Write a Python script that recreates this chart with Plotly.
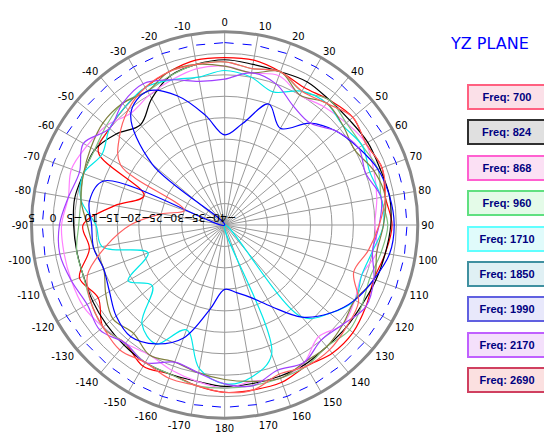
import plotly.graph_objects as go

# angles every 10 deg, clockwise from top (0..350)
angles = list(range(0, 360, 10))

freq_700 = [-1, -1, -2, -3, -2, -1, -2, -1, -2, -1, -2, -3, -2, -1, -1, -2, -1, -1,
            -1, -2, -3, -2, -4, -3, -6, -4, -8, -7, -14, -20, -6, -5, -4, -3, -2, -1]
freq_824 = [-1.5, -2, -2, -1.5, -2, -2, -1.5, -1.5, -1, -1.3, -2, -2.5, -3, -3, -3, -2.5, -2.5, -2.5,
            -2.4, -3, -3, -3, -3.5, -4, -4.5, -5, -5, -4.8, -4.5, -5, -5, -7, -9.5, -6, -3, -2]
freq_868 = [-3, -4, -3, -5, -4, -3, -2, -3, -4, -5, -4, -6, -5, -4, -6, -3, -2, -3,
            -2, -3, -4, -5, -4, -3, -2, -2, -2, -2, -3, -2, -3, -4, -6, -5, -4, -3]
freq_960 = [-2, -3, -2, -4, -2, -3, -3, -2, -3, -2, -3, -4, -3, -2, -3, -2, -2, -2,
            -2, -2, -3, -3, -4, -3, -4, -5, -5, -6, -6, -5, -5, -4, -3, -4, -3, -2]
freq_1710 = [-4, -5, -7, -4, -3, -4, -3, -4, -3, -3, -5, -6, -5, -8, -12, -40, -8, -4,
             -3, -6, -14, -8, -10, -18, -14, -21, -11, -10, -6, -5, -7, -5, -4, -3, -4, -5]
freq_1850 = [-3, -4, -2, -5, -3, -4, -5, -3, -2, -3, -4, -3, -5, -4, -3, -3, -2, -3,
             -4, -5, -6, -5, -7, -6, -8, -10, -9, -8, -6, -5, -4, -3, -3, -4, -2, -2]
freq_1990 = [-19, -16, -10, -14, -9, -6, -4, -2, -1, -0.5, -1, -3, -5, -8, -12, -18, -22, -24,
             -25, -20, -12, -8, -6, -7, -9, -10, -9, -9, -8, -10, -40, -18, -6, -4, -8, -14]
freq_2170 = [-6, -4, -5, -8, -9, -6, -4, -5, -3, -4, -5, -3, -2, -4, -5, -3, -4, -2,
             -3, -5, -6, -3, -4, -2, -3, -2, -1, -1.5, -3, -4, -2, -5, -3, -2, -4, -6]
freq_2690 = [-2, -3, -2, -4, -3, -1, -2, -1, -2, -4, -6, -8, -4, -3, -2, -2, -3, -1,
             -1, -2, -2, -3, -2, -3, -4, -6, -12, -18, -25, -30, -12, -8, -5, -3, -2, -2]

names = ["Freq: 700", "Freq: 824", "Freq: 868", "Freq: 960", "Freq: 1710",
         "Freq: 1850", "Freq: 1990", "Freq: 2170", "Freq: 2690"]
series = [freq_700, freq_824, freq_868, freq_960, freq_1710, freq_1850, freq_1990, freq_2170, freq_2690]
colors = ["#ff0000", "#000000", "#ff80ff", "#80c080", "#00e8e8", "#808040", "#0000ff", "#a040ff", "#ff6060"]
boxfill = ["#fbe0e8", "#e0e0e0", "#fbe0f4", "#e4fbe8", "#e0fbfb", "#e0f0f4", "#e8e8fb", "#f4e0fb", "#fbe0e0"]
boxline = ["#ff6080", "#303030", "#ff60d0", "#60e080", "#60ffff", "#4090a0", "#6060e0", "#c060ff", "#d04060"]

radial_ticks = [5, 0, -5, -10, -15, -20, -25, -30, -35, -40]
ang_labels = [str(a) if a <= 180 else str(a - 360) for a in angles]

fig = go.Figure()
for name, vals, c in zip(names, series, colors):
    fig.add_trace(go.Scatterpolar(r=vals + [vals[0]], theta=angles + [0], mode="lines",
                                  line=dict(color=c, width=1.2, shape="spline"), name=name))

# blue dashed reference circle
fig.add_trace(go.Scatterpolar(r=[2.5] * 37, theta=list(range(0, 370, 10)), mode="lines",
                              line=dict(color="blue", width=1, dash="dash")))

fig.update_layout(
    width=552, height=434, showlegend=False,
    paper_bgcolor="white", margin=dict(l=0, r=0, t=0, b=0),
    font=dict(family="DejaVu Sans", size=10, color="black"),
    polar=dict(
        domain=dict(x=[0.035, 0.75], y=[0.055, 0.945]),
        bgcolor="white",
        angularaxis=dict(direction="clockwise", rotation=90, tickvals=angles, ticktext=ang_labels,
                         gridcolor="#999999", linecolor="#888888", linewidth=3, ticks="",
                         tickfont=dict(size=10)),
        radialaxis=dict(range=[-40, 5], tickvals=radial_ticks, angle=180, tickangle=0,
                        gridcolor="#999999", showline=False, ticks="", tickfont=dict(size=11)),
    ),
)

fig.add_annotation(text="YZ PLANE", x=481 / 552, y=1 - 35 / 434, xref="paper", yref="paper",
                   showarrow=False, xanchor="center", yanchor="middle",
                   font=dict(color="blue", size=16))
for i, name in enumerate(names):
    fig.add_annotation(text="<b>" + name + "</b>", x=499 / 552, y=1 - (89 + i * 35.4) / 434,
                       xref="paper", yref="paper", showarrow=False, width=74, height=20,
                       xanchor="center", yanchor="middle",
                       bgcolor=boxfill[i], bordercolor=boxline[i], borderwidth=2,
                       font=dict(color="#000080", size=11, family="Arial"))

fig.write_html("out.html")
